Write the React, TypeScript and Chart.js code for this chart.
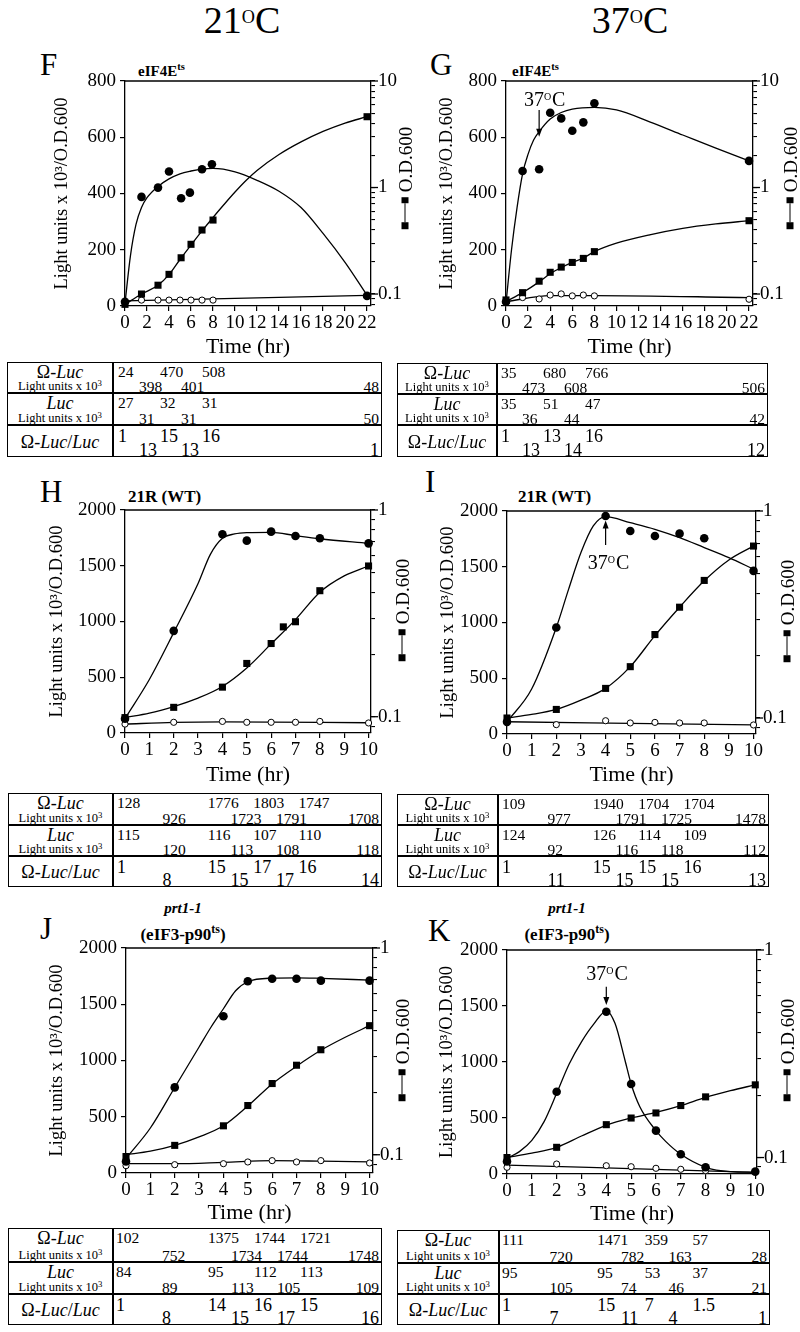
import React, { useEffect, useRef } from "react";
import { Chart, registerables } from "chart.js";

Chart.register(...registerables);

const SERIF = '"Liberation Serif", "Times New Roman", Times, serif';

// ---------------- axis tick lists ----------------
const X_TICKS_22 = [0, 2, 4, 6, 8, 10, 12, 14, 16, 18, 20, 22];
const X_TICKS_10 = [0, 1, 2, 3, 4, 5, 6, 7, 8, 9, 10];
const Y_TICKS_800 = [0, 200, 400, 600, 800];
const Y_TICKS_2000 = [0, 500, 1000, 1500, 2000];
const OD_TICKS_10 = [0.08, 0.09, 0.1, 0.2, 0.3, 0.4, 0.5, 0.6, 0.7, 0.8, 0.9, 1, 2, 3, 4, 5, 6, 7, 8, 9, 10];
const OD_TICKS_1 = [0.09, 0.1, 0.2, 0.3, 0.4, 0.5, 0.6, 0.7, 0.8, 0.9, 1];

// ---------------- panel F (eIF4Ets, 21C) ----------------
const F_CIRCLE_T = [0, 1.5, 3, 4, 5.1, 5.9, 7, 7.9, 22];
const F_CIRCLE_V = [15, 388, 421, 478, 383, 403, 486, 504, 36];
const F_SQUARE_T = [0, 1.5, 3, 4, 5.1, 6, 7, 8, 22];
const F_SQUARE_OD = [0.08, 0.1, 0.121, 0.153, 0.219, 0.293, 0.399, 0.495, 4.62];
const F_OPEN_T = [1.5, 3, 4, 5, 6, 7, 8];
const F_OPEN_V = [21, 21, 21, 21, 21, 21, 21];
const F_CIRCLE_FIT_T = [0, 0.5, 1, 1.5, 2, 3, 4, 5, 6, 7, 8, 10, 12, 14, 16, 18, 20, 22];
const F_CIRCLE_FIT_V = [10, 180, 290, 350, 385, 425, 452, 470, 480, 487, 489, 477, 447, 408, 350, 258, 155, 38];
const F_SQUARE_FIT_T = [0, 1.5, 3, 4, 5, 6, 7, 8, 9, 10, 11, 12, 14, 16, 18, 20, 22];
const F_SQUARE_FIT_OD = [0.08, 0.1, 0.121, 0.152, 0.211, 0.288, 0.391, 0.523, 0.692, 0.907, 1.164, 1.445, 2.04, 2.68, 3.36, 4.03, 4.62];
const F_OPEN_FIT_T = [0, 22];
const F_OPEN_FIT_V = [18, 38];

// ---------------- panel G (eIF4Ets, 37C) ----------------
const G_CIRCLE_T = [0, 1.5, 3, 4, 5, 6, 7, 8, 22];
const G_CIRCLE_V = [15, 480, 486, 687, 667, 623, 653, 721, 516];
const G_SQUARE_T = [0, 1.5, 3, 4, 5, 6, 7, 8, 22];
const G_SQUARE_OD = [0.088, 0.103, 0.132, 0.16, 0.179, 0.198, 0.216, 0.25, 0.488];
const G_OPEN_T = [1.5, 3, 4, 5, 6, 7, 8, 22];
const G_OPEN_V = [30, 25, 39, 43, 36, 39, 36, 24];
const G_CIRCLE_FIT_T = [0, 0.5, 1, 1.5, 2, 2.5, 3, 4, 5, 6, 8, 10, 13, 16, 19, 22];
const G_CIRCLE_FIT_V = [10, 200, 350, 470, 540, 590, 620, 665, 688, 700, 706, 697, 655, 608, 561, 516];
const G_SQUARE_FIT_T = [0, 1.5, 3, 4, 5, 6, 7, 8, 10, 13, 16, 19, 22];
const G_SQUARE_FIT_OD = [0.085, 0.103, 0.13, 0.155, 0.177, 0.198, 0.218, 0.25, 0.3, 0.36, 0.414, 0.455, 0.488];
const G_OPEN_FIT_T = [0, 4, 8, 22];
const G_OPEN_FIT_V = [15, 37, 37, 30];

// ---------------- panel H (21R WT, 21C) ----------------
const H_CIRCLE_T = [0, 2, 4, 5, 6, 7, 8, 10];
const H_CIRCLE_V = [128, 916, 1782, 1725, 1806, 1767, 1746, 1701];
const H_SQUARE_T = [0, 2, 4, 5, 6, 6.5, 7, 8, 10];
const H_SQUARE_OD = [0.099, 0.111, 0.139, 0.181, 0.226, 0.272, 0.288, 0.407, 0.536];
const H_OPEN_T = [0, 2, 4, 5, 6, 7, 8, 10];
const H_OPEN_V = [80, 96, 104, 96, 96, 96, 104, 90];
const H_CIRCLE_FIT_T = [0, 1, 2, 3, 3.5, 4, 4.5, 5, 6, 7, 8, 10];
const H_CIRCLE_FIT_V = [130, 480, 900, 1340, 1600, 1746, 1785, 1797, 1800, 1770, 1742, 1701];
const H_SQUARE_FIT_T = [0, 1, 2, 3, 4, 5, 6, 7, 8, 9, 10];
const H_SQUARE_FIT_OD = [0.099, 0.104, 0.112, 0.123, 0.14, 0.172, 0.225, 0.295, 0.4, 0.48, 0.536];
const H_OPEN_FIT_T = [0, 2, 4, 10];
const H_OPEN_FIT_V = [80, 95, 100, 92];

// ---------------- panel I (21R WT, 37C) ----------------
const I_CIRCLE_T = [0, 2, 4, 5, 6, 7, 8, 10];
const I_CIRCLE_V = [109, 955, 1955, 1821, 1776, 1797, 1755, 1463];
const I_SQUARE_T = [0, 2, 4, 5, 6, 7, 8, 10];
const I_SQUARE_OD = [0.1, 0.11, 0.139, 0.177, 0.253, 0.343, 0.462, 0.677];
const I_OPEN_T = [0, 2, 4, 5, 6, 7, 8, 10];
const I_OPEN_V = [105, 84, 119, 99, 104, 99, 99, 81];
const I_CIRCLE_FIT_T = [0, 1, 2, 2.5, 3, 3.5, 4, 5, 6, 7, 8, 9, 10];
const I_CIRCLE_FIT_V = [109, 403, 955, 1299, 1627, 1866, 1950, 1895, 1836, 1761, 1672, 1582, 1478];
const I_SQUARE_FIT_T = [0, 1, 2, 3, 4, 5, 6, 7, 8, 9, 10];
const I_SQUARE_FIT_OD = [0.1, 0.104, 0.11, 0.122, 0.139, 0.177, 0.25, 0.343, 0.46, 0.58, 0.677];
const I_OPEN_FIT_T = [0, 10];
const I_OPEN_FIT_V = [110, 81];

// ---------------- panel J (prt1-1, 21C) ----------------
const J_CIRCLE_T = [0, 2, 4, 5, 6, 7, 8, 10];
const J_CIRCLE_V = [102, 761, 1393, 1704, 1727, 1727, 1710, 1710];
const J_SQUARE_T = [0, 2, 4, 5, 6, 7, 8, 10];
const J_SQUARE_OD = [0.098, 0.111, 0.138, 0.173, 0.221, 0.271, 0.322, 0.421];
const J_OPEN_T = [0, 2, 4, 5, 6, 7, 8, 10];
const J_OPEN_V = [65, 74, 83, 98, 110, 98, 110, 89];
const J_CIRCLE_FIT_T = [0, 1, 2, 3, 3.5, 4, 4.5, 5, 6, 7, 8, 10];
const J_CIRCLE_FIT_V = [130, 400, 760, 1120, 1300, 1460, 1620, 1700, 1732, 1735, 1730, 1715];
const J_SQUARE_FIT_T = [0, 1, 2, 3, 4, 5, 6, 7, 8, 9, 10];
const J_SQUARE_FIT_OD = [0.1, 0.104, 0.111, 0.122, 0.138, 0.172, 0.22, 0.268, 0.32, 0.37, 0.421];
const J_OPEN_FIT_T = [0, 2, 4, 6, 8, 10];
const J_OPEN_FIT_V = [83, 83, 95, 110, 105, 98];

// ---------------- panel K (prt1-1, 37C) ----------------
const K_CIRCLE_T = [0, 2, 4, 5, 6, 7, 8, 10];
const K_CIRCLE_V = [111, 735, 1449, 804, 387, 176, 60, 21];
const K_SQUARE_T = [0, 2, 4, 5, 6, 7, 8, 10];
const K_SQUARE_OD = [0.1, 0.112, 0.144, 0.155, 0.164, 0.178, 0.196, 0.224];
const K_OPEN_T = [0, 2, 4, 5, 6, 7, 8, 10];
const K_OPEN_V = [60, 89, 74, 65, 51, 42, 30, 21];
const K_CIRCLE_FIT_T = [0, 0.5, 1, 1.5, 2, 2.5, 3, 3.5, 4, 4.35, 4.75, 5, 5.35, 6, 6.4, 7, 8, 9, 10];
const K_CIRCLE_FIT_V = [140, 200, 300, 470, 720, 980, 1180, 1340, 1455, 1345, 1018, 804, 601, 387, 289, 176, 60, 21, 15];
const K_SQUARE_FIT_T = [0, 1, 2, 3, 4, 5, 6, 7, 8, 9, 10];
const K_SQUARE_FIT_OD = [0.1, 0.105, 0.112, 0.127, 0.143, 0.155, 0.165, 0.178, 0.195, 0.21, 0.224];
const K_OPEN_FIT_T = [0, 10];
const K_OPEN_FIT_V = [80, 15];

// ---------------- tables ----------------
const TABLE_TIMES_22 = [0, 2, 4, 6, 8, 22];
const TABLE_TIMES_10 = [0, 2, 4, 5, 6, 7, 8, 10];
const F_TAB_OMEGA = ["24", "398", "470", "401", "508", "48"];
const F_TAB_LUC = ["27", "31", "32", "31", "31", "50"];
const F_TAB_RATIO = ["1", "13", "15", "13", "16", "1"];
const G_TAB_OMEGA = ["35", "473", "680", "608", "766", "506"];
const G_TAB_LUC = ["35", "36", "51", "44", "47", "42"];
const G_TAB_RATIO = ["1", "13", "13", "14", "16", "12"];
const H_TAB_OMEGA = ["128", "926", "1776", "1723", "1803", "1791", "1747", "1708"];
const H_TAB_LUC = ["115", "120", "116", "113", "107", "108", "110", "118"];
const H_TAB_RATIO = ["1", "8", "15", "15", "17", "17", "16", "14"];
const I_TAB_OMEGA = ["109", "977", "1940", "1791", "1704", "1725", "1704", "1478"];
const I_TAB_LUC = ["124", "92", "126", "116", "114", "118", "109", "112"];
const I_TAB_RATIO = ["1", "11", "15", "15", "15", "15", "16", "13"];
const J_TAB_OMEGA = ["102", "752", "1375", "1734", "1744", "1744", "1721", "1748"];
const J_TAB_LUC = ["84", "89", "95", "113", "112", "105", "113", "109"];
const J_TAB_RATIO = ["1", "8", "14", "15", "16", "17", "15", "16"];
const K_TAB_OMEGA = ["111", "720", "1471", "782", "359", "163", "57", "28"];
const K_TAB_LUC = ["95", "105", "95", "74", "53", "46", "37", "21"];
const K_TAB_RATIO = ["1", "7", "15", "11", "7", "4", "1.5", "1"];

// ---------------- helpers ----------------
type Series = { t: number[]; v: number[] };
const S = (t: number[], v: number[]): Series => ({ t, v });
const pts = (s: Series) => s.t.map((x, i) => ({ x, y: s.v[i] }));
const isDecade = (v: number) => Math.abs(Math.log10(v) - Math.round(Math.log10(v))) < 1e-6;

type Annot = { textT: number; textV: number; arrowT: number; fromV: number; toV: number };

interface PanelSpec {
  key: string;
  L: number; R: number; T: number; B: number;
  xMax: number; xTicks: number[];
  yMax: number; yTicks: number[];
  odMin: number; odMax: number; odTicks: number[];
  titleCX: number; timeCY: number;
  circles: Series; squares: Series; opens: Series;
  circleFit: Series; squareFit: Series; openFit: Series;
  annot?: Annot;
}

const PANELS: PanelSpec[] = [
  {
    key: "F", L: 125, R: 371, T: 81, B: 306, xMax: 22.36, xTicks: X_TICKS_22,
    yMax: 800, yTicks: Y_TICKS_800, odMin: 0.0772, odMax: 10, odTicks: OD_TICKS_10,
    titleCX: 62, timeCY: 347,
    circles: S(F_CIRCLE_T, F_CIRCLE_V), squares: S(F_SQUARE_T, F_SQUARE_OD), opens: S(F_OPEN_T, F_OPEN_V),
    circleFit: S(F_CIRCLE_FIT_T, F_CIRCLE_FIT_V), squareFit: S(F_SQUARE_FIT_T, F_SQUARE_FIT_OD), openFit: S(F_OPEN_FIT_T, F_OPEN_FIT_V),
  },
  {
    key: "G", L: 506, R: 753, T: 81, B: 306, xMax: 22.36, xTicks: X_TICKS_22,
    yMax: 800, yTicks: Y_TICKS_800, odMin: 0.0772, odMax: 10, odTicks: OD_TICKS_10,
    titleCX: 447, timeCY: 347,
    circles: S(G_CIRCLE_T, G_CIRCLE_V), squares: S(G_SQUARE_T, G_SQUARE_OD), opens: S(G_OPEN_T, G_OPEN_V),
    circleFit: S(G_CIRCLE_FIT_T, G_CIRCLE_FIT_V), squareFit: S(G_SQUARE_FIT_T, G_SQUARE_FIT_OD), openFit: S(G_OPEN_FIT_T, G_OPEN_FIT_V),
    annot: { textT: 3.5, textV: 736, arrowT: 3.0, fromV: 697, toV: 602 },
  },
  {
    key: "H", L: 125, R: 371, T: 510, B: 733, xMax: 10.1, xTicks: X_TICKS_10,
    yMax: 2000, yTicks: Y_TICKS_2000, odMin: 0.0834, odMax: 1, odTicks: OD_TICKS_1,
    titleCX: 57, timeCY: 775,
    circles: S(H_CIRCLE_T, H_CIRCLE_V), squares: S(H_SQUARE_T, H_SQUARE_OD), opens: S(H_OPEN_T, H_OPEN_V),
    circleFit: S(H_CIRCLE_FIT_T, H_CIRCLE_FIT_V), squareFit: S(H_SQUARE_FIT_T, H_SQUARE_FIT_OD), openFit: S(H_OPEN_FIT_T, H_OPEN_FIT_V),
  },
  {
    key: "I", L: 507, R: 756, T: 511, B: 734, xMax: 10.1, xTicks: X_TICKS_10,
    yMax: 2000, yTicks: Y_TICKS_2000, odMin: 0.0837, odMax: 1, odTicks: OD_TICKS_1,
    titleCX: 448, timeCY: 775,
    circles: S(I_CIRCLE_T, I_CIRCLE_V), squares: S(I_SQUARE_T, I_SQUARE_OD), opens: S(I_OPEN_T, I_OPEN_V),
    circleFit: S(I_CIRCLE_FIT_T, I_CIRCLE_FIT_V), squareFit: S(I_SQUARE_FIT_T, I_SQUARE_FIT_OD), openFit: S(I_OPEN_FIT_T, I_OPEN_FIT_V),
    annot: { textT: 4.12, textV: 1536, arrowT: 4.0, fromV: 1696, toV: 1915 },
  },
  {
    key: "J", L: 126, R: 373, T: 948, B: 1173, xMax: 10.14, xTicks: X_TICKS_10,
    yMax: 2000, yTicks: Y_TICKS_2000, odMin: 0.0816, odMax: 1, odTicks: OD_TICKS_1,
    titleCX: 57, timeCY: 1213,
    circles: S(J_CIRCLE_T, J_CIRCLE_V), squares: S(J_SQUARE_T, J_SQUARE_OD), opens: S(J_OPEN_T, J_OPEN_V),
    circleFit: S(J_CIRCLE_FIT_T, J_CIRCLE_FIT_V), squareFit: S(J_SQUARE_FIT_T, J_SQUARE_FIT_OD), openFit: S(J_OPEN_FIT_T, J_OPEN_FIT_V),
  },
  {
    key: "K", L: 507, R: 757, T: 950, B: 1174, xMax: 10.07, xTicks: X_TICKS_10,
    yMax: 2000, yTicks: Y_TICKS_2000, odMin: 0.0833, odMax: 1, odTicks: OD_TICKS_1,
    titleCX: 447, timeCY: 1214,
    circles: S(K_CIRCLE_T, K_CIRCLE_V), squares: S(K_SQUARE_T, K_SQUARE_OD), opens: S(K_OPEN_T, K_OPEN_V),
    circleFit: S(K_CIRCLE_FIT_T, K_CIRCLE_FIT_V), squareFit: S(K_SQUARE_FIT_T, K_SQUARE_FIT_OD), openFit: S(K_OPEN_FIT_T, K_OPEN_FIT_V),
    annot: { textT: 4.03, textV: 1795, arrowT: 4.0, fromV: 1672, toV: 1509 },
  },
];

const TICK_FONT = 19;
const YTITLE_FONT = 18.5;
const XTITLE_FONT = 22;

function makeDecor(spec: PanelSpec) {
  return {
    id: "decor" + spec.key,
    afterDraw(chart: any) {
      const { ctx, chartArea: ca, scales } = chart;
      ctx.save();
      ctx.strokeStyle = "#000";
      ctx.fillStyle = "#000";
      ctx.lineWidth = 1.3;
      ctx.beginPath();
      ctx.moveTo(ca.left, ca.top);
      ctx.lineTo(ca.right, ca.top);
      ctx.stroke();
      const y1 = scales.y1;
      for (const v of spec.odTicks) {
        if (!isDecade(v)) continue;
        const y = y1.getPixelForValue(v);
        ctx.beginPath();
        ctx.moveTo(ca.right, y);
        ctx.lineTo(ca.right + 7, y);
        ctx.stroke();
      }
      const a = spec.annot;
      if (a) {
        const ax = scales.x.getPixelForValue(a.arrowT);
        const yf = scales.y.getPixelForValue(a.fromV);
        const yt = scales.y.getPixelForValue(a.toV);
        const dir = Math.sign(yt - yf);
        ctx.lineWidth = 1.2;
        ctx.beginPath();
        ctx.moveTo(ax, yf);
        ctx.lineTo(ax, yt - dir * 4);
        ctx.stroke();
        ctx.beginPath();
        ctx.moveTo(ax, yt);
        ctx.lineTo(ax - 3, yt - dir * 8);
        ctx.lineTo(ax + 3, yt - dir * 8);
        ctx.closePath();
        ctx.fill();
        const tx = scales.x.getPixelForValue(a.textT);
        const ty = scales.y.getPixelForValue(a.textV);
        const big = `20px ${SERIF}`;
        const small = `10px ${SERIF}`;
        ctx.font = big;
        const w1 = ctx.measureText("37").width;
        const w3 = ctx.measureText("C").width;
        ctx.font = small;
        const w2 = ctx.measureText("O").width;
        const total = w1 + w2 + w3 + 1;
        let x = tx - total / 2;
        const base = ty + 6.6;
        ctx.textBaseline = "alphabetic";
        ctx.textAlign = "left";
        ctx.font = big;
        ctx.fillText("37", x, base);
        x += w1;
        ctx.font = small;
        ctx.fillText("O", x, base - 6);
        x += w2 + 1;
        ctx.font = big;
        ctx.fillText("C", x, base);
      }
      ctx.restore();
    },
  };
}

function Panel({ spec }: { spec: PanelSpec }) {
  const ref = useRef<HTMLCanvasElement>(null);
  const TOP = 22;
  const RIGHT = 44;
  const cLeft = Math.round(spec.titleCX - YTITLE_FONT * 0.6);
  const cTop = spec.T - TOP;
  const leftSpace = spec.L - cLeft;
  const W = Math.round(leftSpace + (spec.R - spec.L) + RIGHT);
  const H = Math.round(spec.timeCY + XTITLE_FONT * 0.6 - cTop);
  const rightSpace = W - leftSpace - (spec.R - spec.L);
  const bottomSpace = H - TOP - (spec.B - spec.T);

  useEffect(() => {
    const canvas = ref.current;
    if (!canvas) return;
    const tickFont = { family: SERIF, size: TICK_FONT };
    const axisCommon = {
      border: { display: true, color: "#000", width: 1.3 },
    };
    const lineDs = (s: Series, axis: string) => ({
      data: pts(s),
      yAxisID: axis,
      borderColor: "#000",
      borderWidth: 1.3,
      pointRadius: 0,
      fill: false,
      cubicInterpolationMode: "monotone" as const,
      clip: false as const,
      order: 2,
    });
    const chart = new Chart(canvas, {
      type: "line",
      data: {
        datasets: [
          lineDs(spec.openFit, "y"),
          lineDs(spec.squareFit, "y1"),
          lineDs(spec.circleFit, "y"),
          {
            data: pts(spec.opens), yAxisID: "y", showLine: false, pointStyle: "circle",
            pointRadius: 3.1, pointBackgroundColor: "#fff", pointBorderColor: "#000", pointBorderWidth: 1,
            clip: false, order: 1,
          },
          {
            data: pts(spec.squares), yAxisID: "y1", showLine: false, pointStyle: "rect",
            pointRadius: 5, pointBackgroundColor: "#000", pointBorderColor: "#000", pointBorderWidth: 0,
            clip: false, order: 0,
          },
          {
            data: pts(spec.circles), yAxisID: "y", showLine: false, pointStyle: "circle",
            pointRadius: 4.3, pointBackgroundColor: "#000", pointBorderColor: "#000", pointBorderWidth: 0,
            clip: false, order: 0,
          },
        ] as any,
      },
      options: {
        responsive: false,
        animation: false,
        devicePixelRatio: 1,
        events: [],
        layout: { padding: { top: TOP, left: 0, right: 0, bottom: 0 } },
        plugins: { legend: { display: false }, tooltip: { enabled: false }, title: { display: false } },
        scales: {
          x: {
            type: "linear", min: 0, max: spec.xMax, ...axisCommon,
            afterBuildTicks: (s: any) => { s.ticks = spec.xTicks.map((v) => ({ value: v })); },
            afterFit: (s: any) => { s.height = bottomSpace; },
            ticks: { autoSkip: false, maxRotation: 0, minRotation: 0, font: tickFont, color: "#000", padding: 1, callback: (v: any) => String(v) },
            grid: { display: true, drawOnChartArea: false, drawTicks: true, tickLength: 5, color: "#000", lineWidth: 1.2 },
            title: { display: true, text: "Time (hr)", font: { family: SERIF, size: XTITLE_FONT }, color: "#000", padding: 0 },
          },
          y: {
            type: "linear", position: "left", min: 0, max: spec.yMax, ...axisCommon,
            afterBuildTicks: (s: any) => { s.ticks = spec.yTicks.map((v) => ({ value: v })); },
            afterFit: (s: any) => { s.width = leftSpace; },
            ticks: { font: tickFont, color: "#000", padding: 4, callback: (v: any) => String(v) },
            grid: { display: true, drawOnChartArea: false, drawTicks: true, tickLength: 5, color: "#000", lineWidth: 1.2 },
            title: { display: true, text: "Light units x 10\u00B3/O.D.600", font: { family: SERIF, size: YTITLE_FONT }, color: "#000", padding: 0 },
          },
          y1: {
            type: "logarithmic", position: "right", min: spec.odMin, max: spec.odMax, ...axisCommon,
            afterBuildTicks: (s: any) => { s.ticks = spec.odTicks.map((v) => ({ value: v })); },
            afterFit: (s: any) => { s.width = rightSpace; },
            ticks: {
              font: tickFont, color: "#000", padding: 3, autoSkip: false,
              callback: (v: any) => (isDecade(Number(v)) ? String(Number(Number(v).toPrecision(3))) : ""),
            },
            grid: { display: true, drawOnChartArea: false, drawTicks: true, tickLength: 4, color: "#000", lineWidth: 1.1 },
          },
        } as any,
      },
      plugins: [makeDecor(spec)],
    });
    return () => chart.destroy();
  }, []);

  return (
    <canvas
      ref={ref}
      width={W}
      height={H}
      style={{ position: "absolute", left: cLeft, top: cTop, width: W, height: H }}
    />
  );
}

// ---------------- HTML text helpers ----------------
const ASC = 0.8375;
function Txt(props: any) {
  const { x, base, size, align = "left", bold, italic, children } = props;
  const tr = align === "center" ? "translateX(-50%)" : align === "right" ? "translateX(-100%)" : undefined;
  return (
    <div
      style={{
        position: "absolute", left: x, top: base - ASC * size, fontSize: size, lineHeight: `${size}px`,
        fontFamily: SERIF, fontWeight: bold ? 700 : 400, fontStyle: italic ? "italic" : "normal",
        whiteSpace: "nowrap", transform: tr, color: "#000",
      }}
    >
      {children}
    </div>
  );
}
function Sup({ children, k = 0.6, rise = 0.4 }: any) {
  return <span style={{ fontSize: `${k}em`, position: "relative", top: `${-rise / k}em` }}>{children}</span>;
}

function OdTitle({ cx, cy }: { cx: number; cy: number }) {
  return (
    <div
      style={{
        position: "absolute", left: cx, top: cy, transform: "translate(-50%,-50%) rotate(-90deg)",
        display: "flex", alignItems: "center", whiteSpace: "nowrap", fontFamily: SERIF, fontSize: 19,
        lineHeight: "19px", color: "#000",
      }}
    >
      <div style={{ width: 6.5, height: 6.5, background: "#000" }} />
      <div style={{ width: 19, height: 1.3, background: "#000" }} />
      <div style={{ width: 6.5, height: 6.5, background: "#000" }} />
      <div style={{ width: 5 }} />
      <span>O.D.600</span>
    </div>
  );
}

type TableGeom = { left: number; top: number; right: number; bottom: number; col: number; r1: number; r2: number; pxh: number; pad: number };

function DataTable({ g, times, omega, luc, ratio }: { g: TableGeom; times: number[]; omega: string[]; luc: string[]; ratio: string[] }) {
  const cx = (g.left + g.col) / 2;
  const nums = (vals: string[], rowTop: number, rowBot: number, size: number, upOff: number, key: string) =>
    vals.map((v, i) => {
      const upper = i % 2 === 0;
      const base = upper ? rowTop + upOff : rowBot - 1;
      if (i === vals.length - 1) {
        return <Txt key={key + i} x={g.right - 3} base={base} size={size} align="right">{v}</Txt>;
      }
      return <Txt key={key + i} x={g.col + g.pad + times[i] * g.pxh} base={base} size={size}>{v}</Txt>;
    });
  const hLine = (y: number, k: string) => (
    <div key={k} style={{ position: "absolute", left: g.left, top: y - 0.6, width: g.right - g.left, height: 1.2, background: "#000" }} />
  );
  return (
    <>
      <div style={{ position: "absolute", left: g.left, top: g.top, width: g.right - g.left, height: g.bottom - g.top, border: "1.6px solid #000", boxSizing: "border-box" }} />
      <div style={{ position: "absolute", left: g.col - 0.6, top: g.top, width: 1.2, height: g.bottom - g.top, background: "#000" }} />
      {hLine(g.r1, "a")}
      {hLine(g.r2, "b")}
      <Txt x={cx} base={g.top + 16.5} size={18} align="center">Ω-<i>Luc</i></Txt>
      <Txt x={cx} base={g.r1 - 2.5} size={12.5} align="center">Light units x 10<Sup k={0.7} rise={0.35}>3</Sup></Txt>
      <Txt x={cx} base={g.r1 + 16.5} size={18} align="center"><i>Luc</i></Txt>
      <Txt x={cx} base={g.r2 - 2.5} size={12.5} align="center">Light units x 10<Sup k={0.7} rise={0.35}>3</Sup></Txt>
      <Txt x={cx} base={(g.r2 + g.bottom) / 2 + 7} size={18} align="center">Ω-<i>Luc</i>/<i>Luc</i></Txt>
      {nums(omega, g.top, g.r1, 15.5, 15, "o")}
      {nums(luc, g.r1, g.r2, 15.5, 15, "l")}
      {nums(ratio, g.r2, g.bottom, 18, 17, "r")}
    </>
  );
}

const TABLES: { g: TableGeom; times: number[]; omega: string[]; luc: string[]; ratio: string[] }[] = [
  { g: { left: 7, top: 362, right: 382, bottom: 457, col: 113, r1: 393, r2: 425, pxh: 10.5, pad: 5 }, times: TABLE_TIMES_22, omega: F_TAB_OMEGA, luc: F_TAB_LUC, ratio: F_TAB_RATIO },
  { g: { left: 397, top: 363, right: 768, bottom: 457, col: 497, r1: 394, r2: 425, pxh: 10.5, pad: 4 }, times: TABLE_TIMES_22, omega: G_TAB_OMEGA, luc: G_TAB_LUC, ratio: G_TAB_RATIO },
  { g: { left: 8, top: 793, right: 382, bottom: 887, col: 113, r1: 825, r2: 856, pxh: 22.7, pad: 4 }, times: TABLE_TIMES_10, omega: H_TAB_OMEGA, luc: H_TAB_LUC, ratio: H_TAB_RATIO },
  { g: { left: 397, top: 794, right: 769, bottom: 887, col: 498, r1: 825, r2: 856, pxh: 22.7, pad: 4 }, times: TABLE_TIMES_10, omega: I_TAB_OMEGA, luc: I_TAB_LUC, ratio: I_TAB_RATIO },
  { g: { left: 8, top: 1228, right: 382, bottom: 1325, col: 113, r1: 1262, r2: 1294, pxh: 23, pad: 3 }, times: TABLE_TIMES_10, omega: J_TAB_OMEGA, luc: J_TAB_LUC, ratio: J_TAB_RATIO },
  { g: { left: 397, top: 1230, right: 770, bottom: 1325, col: 499, r1: 1263, r2: 1294, pxh: 23.8, pad: 3 }, times: TABLE_TIMES_10, omega: K_TAB_OMEGA, luc: K_TAB_LUC, ratio: K_TAB_RATIO },
];

export default function App() {
  return (
    <div style={{ position: "absolute", left: 0, top: 0, width: 800, height: 1332, background: "#fff", overflow: "hidden", fontFamily: SERIF }}>
      {/* column headers */}
      <Txt x={242} base={33} size={38} align="center">21<Sup k={0.48} rise={0.27}>O</Sup>C</Txt>
      <Txt x={630} base={33} size={38} align="center">37<Sup k={0.48} rise={0.27}>O</Sup>C</Txt>

      {/* panel letters */}
      <Txt x={40} base={75} size={31}>F</Txt>
      <Txt x={430} base={75} size={31}>G</Txt>
      <Txt x={40} base={502} size={31}>H</Txt>
      <Txt x={425} base={492} size={31}>I</Txt>
      <Txt x={40} base={939} size={31}>J</Txt>
      <Txt x={428} base={941} size={31}>K</Txt>

      {/* panel titles */}
      <Txt x={138} base={77} size={15} bold>eIF4E<Sup k={0.7} rise={0.4}>ts</Sup></Txt>
      <Txt x={512} base={77} size={15} bold>eIF4E<Sup k={0.7} rise={0.4}>ts</Sup></Txt>
      <Txt x={128} base={502} size={17} bold>21R (WT)</Txt>
      <Txt x={518} base={502} size={17} bold>21R (WT)</Txt>
      <Txt x={183} base={914} size={15} bold italic align="center">prt1-1</Txt>
      <Txt x={183} base={940} size={17} bold align="center">(eIF3-p90<Sup k={0.7} rise={0.4}>ts</Sup>)</Txt>
      <Txt x={567} base={914} size={15} bold italic align="center">prt1-1</Txt>
      <Txt x={567} base={940} size={17} bold align="center">(eIF3-p90<Sup k={0.7} rise={0.4}>ts</Sup>)</Txt>

      {PANELS.map((p) => <Panel key={p.key} spec={p} />)}

      {/* right-axis titles */}
      <OdTitle cx={405} cy={178} />
      <OdTitle cx={790} cy={178} />
      <OdTitle cx={402} cy={610} />
      <OdTitle cx={787} cy={611} />
      <OdTitle cx={402} cy={1050} />
      <OdTitle cx={787} cy={1050} />

      {TABLES.map((t, i) => <DataTable key={i} g={t.g} times={t.times} omega={t.omega} luc={t.luc} ratio={t.ratio} />)}
    </div>
  );
}
